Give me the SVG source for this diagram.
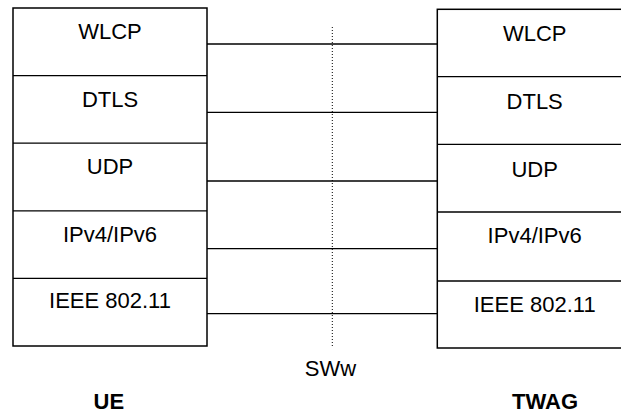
<svg xmlns="http://www.w3.org/2000/svg" width="621" height="414" viewBox="0 0 621 414">
<style>
.box{fill:#fff;stroke:#000;stroke-width:1.5}
.t{font-family:"Liberation Sans",Arial,sans-serif;font-size:22px;text-anchor:middle;fill:#000}
.b{font-weight:bold}
.ln{stroke:#000;stroke-width:1.3;fill:none}
.dot{stroke:#000;stroke-width:1;stroke-dasharray:1 2;fill:none}
</style>
<g id="ue">
<rect class="box" x="13" y="8" width="194" height="338"/>
<line class="ln" x1="13" y1="75.6" x2="207" y2="75.6"/>
<line class="ln" x1="13" y1="143.2" x2="207" y2="143.2"/>
<line class="ln" x1="13" y1="210.8" x2="207" y2="210.8"/>
<line class="ln" x1="13" y1="278.4" x2="207" y2="278.4"/>
<text class="t" x="110" y="39.3">WLCP</text>
<text class="t" x="110" y="107.3">DTLS</text>
<text class="t" x="110" y="174.3">UDP</text>
<text class="t" x="110" y="242.3">IPv4/IPv6</text>
<text class="t" x="110" y="308.3">IEEE 802.11</text>
</g>
<g id="twag">
<rect class="box" x="437.3" y="9.3" width="195" height="338.7"/>
<line class="ln" x1="437.3" y1="76.7" x2="632" y2="76.7"/>
<line class="ln" x1="437.3" y1="144.3" x2="632" y2="144.3"/>
<line class="ln" x1="437.3" y1="212" x2="632" y2="212"/>
<line class="ln" x1="437.3" y1="281" x2="632" y2="281"/>
<text class="t" x="534.7" y="40.7">WLCP</text>
<text class="t" x="534.7" y="109.3">DTLS</text>
<text class="t" x="534.7" y="176.7">UDP</text>
<text class="t" x="534.7" y="243.3">IPv4/IPv6</text>
<text class="t" x="534.7" y="312.3">IEEE 802.11</text>
</g>
<g id="connectors">
<line class="ln" x1="207" y1="44" x2="437.3" y2="44"/>
<line class="ln" x1="207" y1="112.3" x2="437.3" y2="112.3"/>
<line class="ln" x1="207" y1="181" x2="437.3" y2="181"/>
<line class="ln" x1="207" y1="248.7" x2="437.3" y2="248.7"/>
<line class="ln" x1="207" y1="313.7" x2="437.3" y2="313.7"/>
<line class="dot" x1="332.3" y1="27" x2="332.3" y2="348"/>
</g>
<g id="labels">
<text class="t" x="330.5" y="375.7">SWw</text>
<text class="t b" x="108.8" y="409">UE</text>
<text class="t b" x="545" y="409">TWAG</text>
</g>
</svg>
